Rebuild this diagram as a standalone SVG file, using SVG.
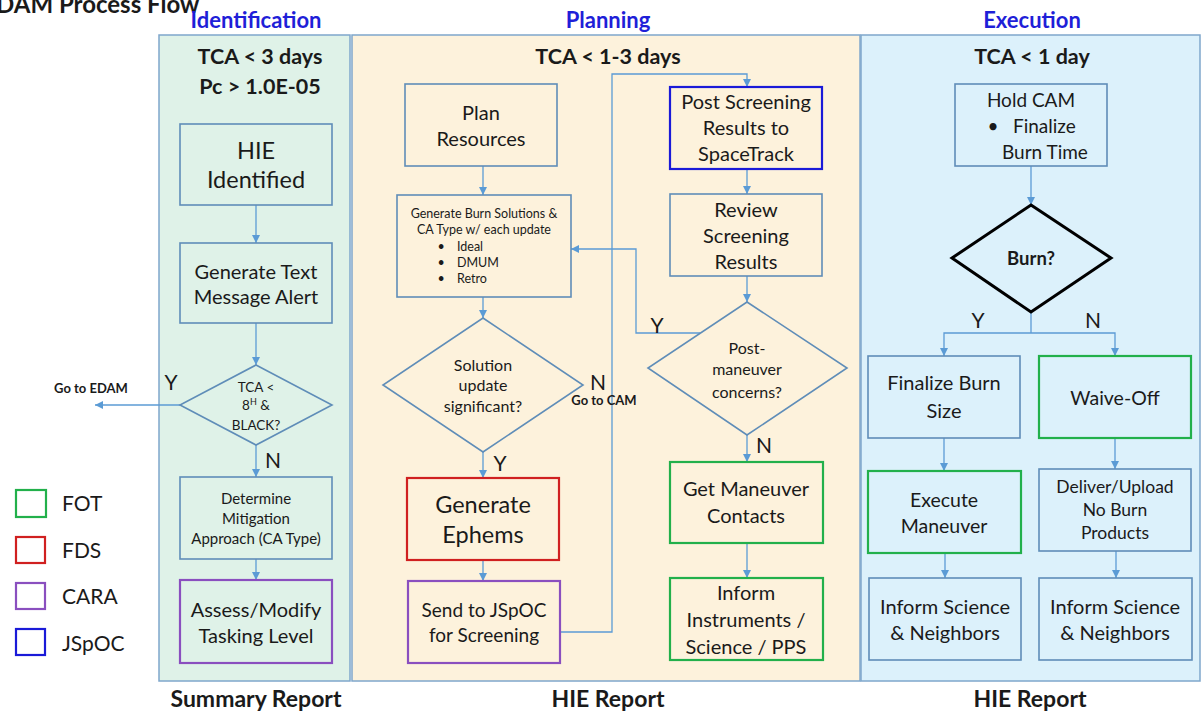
<svg xmlns="http://www.w3.org/2000/svg" width="1201" height="711" viewBox="0 0 1201 711">
<defs>
<marker id="ah" viewBox="0 0 10 10" refX="10" refY="5" markerWidth="8" markerHeight="8" markerUnits="userSpaceOnUse" orient="auto">
<path d="M0,0 L10,5 L0,10 z" fill="#5b9bd5"/>
</marker>
<style>
text{font-family:Lato,"Liberation Sans",sans-serif;fill:#1a1a1a;text-anchor:middle}
.hd{font-weight:bold;font-size:22px;fill:#1f1fd8}
.sub{font-weight:bold;font-size:21.5px}
.bot{font-weight:bold;font-size:23px}
.col{stroke:#7fa7cc;stroke-width:1.5}
.n{fill:none;stroke:#5f8db8;stroke-width:1.6}
.fot{stroke:#22b04b;stroke-width:2.2}
.fds{stroke:#d02020;stroke-width:2.2}
.cara{stroke:#8a4fbf;stroke-width:2.2}
.jsp{stroke:#1a1ad8;stroke-width:2.2}
.c{fill:none;stroke:#5b9bd5;stroke-width:1.3}
.yn{font-size:21px}
.lg{font-size:21px;text-anchor:start}
.go{font-weight:bold;font-size:13px}
</style>
</defs>
<text x="-4" y="13" style="font-weight:bold;font-size:24px;text-anchor:start">DAM Process Flow</text>

<g id="col-identification">
<rect class="col" x="159" y="35" width="191" height="646" fill="#dff2e8"/>
<text class="hd" x="256" y="28">Identification</text>
<text class="sub" x="260" y="64">TCA &lt; 3 days</text>
<text class="sub" x="260" y="94">Pc &gt; 1.0E-05</text>
<text class="bot" x="256" y="707">Summary Report</text>
</g>
<g id="col-planning">
<rect class="col" x="352" y="35" width="508" height="646" fill="#fdf2dc"/>
<text class="hd" x="608" y="28">Planning</text>
<text class="sub" x="608" y="64">TCA &lt; 1-3 days</text>
<text class="bot" x="608" y="707">HIE Report</text>
</g>
<g id="col-execution">
<rect class="col" x="861" y="35" width="339" height="646" fill="#dcf1fb"/>
<text class="hd" x="1032" y="28">Execution</text>
<text class="sub" x="1032" y="64">TCA &lt; 1 day</text>
<text class="bot" x="1030" y="707">HIE Report</text>
</g>

<g id="legend">
<rect class="fot" x="16" y="490" width="30" height="27" fill="none"/>
<text class="lg" x="62" y="511">FOT</text>
<rect class="fds" x="16" y="537" width="29" height="26" fill="none"/>
<text class="lg" x="62" y="558">FDS</text>
<rect class="cara" x="16" y="583" width="29" height="26" fill="none"/>
<text class="lg" x="62" y="604">CARA</text>
<rect class="jsp" x="16" y="629" width="29" height="26" fill="none"/>
<text class="lg" x="62" y="651">JSpOC</text>
</g>

<g id="connectors">
<line class="c" x1="256" y1="205" x2="256" y2="243" marker-end="url(#ah)"/>
<line class="c" x1="256" y1="323" x2="256" y2="365" marker-end="url(#ah)"/>
<line class="c" x1="180" y1="405" x2="95" y2="405" marker-end="url(#ah)"/>
<line class="c" x1="256" y1="445" x2="256" y2="477" marker-end="url(#ah)"/>
<line class="c" x1="256" y1="559" x2="256" y2="580" marker-end="url(#ah)"/>
<line class="c" x1="483" y1="166" x2="483" y2="195" marker-end="url(#ah)"/>
<line class="c" x1="483" y1="297" x2="483" y2="318" marker-end="url(#ah)"/>
<line class="c" x1="483" y1="452" x2="483" y2="478" marker-end="url(#ah)"/>
<line class="c" x1="483" y1="560" x2="483" y2="581" marker-end="url(#ah)"/>
<polyline class="c" points="560,632 612,632 612,74 747,74 747,87" marker-end="url(#ah)"/>
<line class="c" x1="747" y1="169" x2="747" y2="194" marker-end="url(#ah)"/>
<line class="c" x1="747" y1="276" x2="747" y2="302" marker-end="url(#ah)"/>
<polyline class="c" points="700,333 636,333 636,249 571,249" marker-end="url(#ah)"/>
<line class="c" x1="747" y1="435" x2="747" y2="462" marker-end="url(#ah)"/>
<line class="c" x1="747" y1="543" x2="747" y2="578" marker-end="url(#ah)"/>
<line class="c" x1="1031" y1="166" x2="1031" y2="205" marker-end="url(#ah)"/>
<polyline class="c" points="1031,312 1031,333"/>
<polyline class="c" points="1031,333 944,333 944,356" marker-end="url(#ah)"/>
<polyline class="c" points="1031,333 1115,333 1115,356" marker-end="url(#ah)"/>
<line class="c" x1="944" y1="438" x2="944" y2="471" marker-end="url(#ah)"/>
<line class="c" x1="1115" y1="438" x2="1115" y2="469" marker-end="url(#ah)"/>
<line class="c" x1="945" y1="553" x2="945" y2="578" marker-end="url(#ah)"/>
<line class="c" x1="1116" y1="551" x2="1116" y2="578" marker-end="url(#ah)"/>
<text class="yn" x="171" y="390">Y</text>
<text class="go" x="91" y="393">Go to EDAM</text>
<text class="yn" x="273" y="468">N</text>
<text class="yn" x="598" y="390">N</text>
<text class="go" x="604" y="405">Go to CAM</text>
<text class="yn" x="500" y="471">Y</text>
<text class="yn" x="657" y="333">Y</text>
<text class="yn" x="764" y="453">N</text>
<text class="yn" x="978" y="328">Y</text>
<text class="yn" x="1093" y="328">N</text>
</g>

<g id="hie-identified">
<rect class="n" x="180" y="124" width="152" height="81"/>
<text x="256" y="159" font-size="23.5">HIE</text>
<text x="256" y="188" font-size="23.5">Identified</text>
</g>
<g id="text-alert">
<rect class="n" x="180" y="243" width="152" height="80"/>
<text x="256" y="279" font-size="20">Generate Text</text>
<text x="256" y="304" font-size="20">Message Alert</text>
</g>
<g id="tca-8h">
<polygon class="n" points="256,365 332,405 256,445 180,405"/>
<text x="256" y="392" font-size="13.5">TCA &lt;</text>
<text x="256" y="410" font-size="13.5">8<tspan font-size="9" dy="-5">H</tspan><tspan dy="5"> &amp;</tspan></text>
<text x="256" y="430" font-size="13.5">BLACK?</text>
</g>
<g id="determine-mitigation">
<rect class="n" x="180" y="477" width="152" height="82"/>
<text x="256" y="504" font-size="15">Determine</text>
<text x="256" y="524" font-size="15">Mitigation</text>
<text x="256" y="544" font-size="15">Approach (CA Type)</text>
</g>
<g id="assess-modify">
<rect class="n cara" x="180" y="580" width="152" height="83"/>
<text x="256" y="617" font-size="20">Assess/Modify</text>
<text x="256" y="643" font-size="20">Tasking Level</text>
</g>

<g id="plan-resources">
<rect class="n" x="405" y="84" width="152" height="82"/>
<text x="481" y="120" font-size="20">Plan</text>
<text x="481" y="146" font-size="20">Resources</text>
</g>
<g id="burn-solutions">
<rect class="n" x="397" y="195" width="174" height="102"/>
<text x="484" y="218" font-size="12.5">Generate Burn Solutions &amp;</text>
<text x="484" y="234" font-size="12.5">CA Type w/ each update</text>
<text x="441" y="251" font-size="12.5">•</text>
<text x="457" y="251" font-size="12.5" style="text-anchor:start">Ideal</text>
<text x="441" y="267" font-size="12.5">•</text>
<text x="457" y="267" font-size="12.5" style="text-anchor:start">DMUM</text>
<text x="441" y="283" font-size="12.5">•</text>
<text x="457" y="283" font-size="12.5" style="text-anchor:start">Retro</text>
</g>
<g id="solution-significant">
<polygon class="n" points="483,318 583,385 483,452 383,385"/>
<text x="483" y="371" font-size="16">Solution</text>
<text x="483" y="391" font-size="16">update</text>
<text x="483" y="412" font-size="16">significant?</text>
</g>
<g id="generate-ephems">
<rect class="n fds" x="407" y="478" width="152" height="82"/>
<text x="483" y="513" font-size="23.5">Generate</text>
<text x="483" y="543" font-size="23.5">Ephems</text>
</g>
<g id="send-jspoc">
<rect class="n cara" x="408" y="581" width="152" height="82"/>
<text x="484" y="617" font-size="19">Send to JSpOC</text>
<text x="484" y="642" font-size="19">for Screening</text>
</g>
<g id="post-screening">
<rect class="n jsp" x="670" y="87" width="152" height="82"/>
<text x="746" y="109" font-size="20">Post Screening</text>
<text x="746" y="135" font-size="20">Results to</text>
<text x="746" y="161" font-size="20">SpaceTrack</text>
</g>
<g id="review-screening">
<rect class="n" x="670" y="194" width="152" height="82"/>
<text x="746" y="217" font-size="20">Review</text>
<text x="746" y="243" font-size="20">Screening</text>
<text x="746" y="269" font-size="20">Results</text>
</g>
<g id="post-maneuver">
<polygon class="n" points="747,302 847,368 747,435 648,368"/>
<text x="747" y="354" font-size="16">Post-</text>
<text x="747" y="375" font-size="16">maneuver</text>
<text x="747" y="398" font-size="16">concerns?</text>
</g>
<g id="get-contacts">
<rect class="n fot" x="670" y="462" width="153" height="81"/>
<text x="746" y="496" font-size="20">Get Maneuver</text>
<text x="746" y="523" font-size="20">Contacts</text>
</g>
<g id="inform-instruments">
<rect class="n fot" x="670" y="578" width="153" height="82"/>
<text x="746" y="600" font-size="20">Inform</text>
<text x="746" y="627" font-size="20">Instruments /</text>
<text x="746" y="654" font-size="20">Science / PPS</text>
</g>

<g id="hold-cam">
<rect class="n" x="955" y="84" width="152" height="82"/>
<text x="1031" y="107" font-size="19">Hold CAM</text>
<text x="993" y="133" font-size="19">•</text>
<text x="1013" y="133" font-size="19" style="text-anchor:start">Finalize</text>
<text x="1002" y="159" font-size="19" style="text-anchor:start">Burn Time</text>
</g>
<g id="burn">
<polygon points="1031,205 1111,258 1031,312 952,258" fill="none" stroke="#000" stroke-width="3"/>
<text x="1031" y="265" font-size="18.5" font-weight="bold">Burn?</text>
</g>
<g id="finalize-burn">
<rect class="n" x="868" y="356" width="152" height="82"/>
<text x="944" y="390" font-size="20">Finalize Burn</text>
<text x="944" y="418" font-size="20">Size</text>
</g>
<g id="waive-off">
<rect class="n fot" x="1039" y="356" width="152" height="82"/>
<text x="1115" y="405" font-size="19.5">Waive-Off</text>
</g>
<g id="execute-maneuver">
<rect class="n fot" x="868" y="471" width="153" height="82"/>
<text x="944" y="507" font-size="19.5">Execute</text>
<text x="944" y="533" font-size="19.5">Maneuver</text>
</g>
<g id="deliver-upload">
<rect class="n" x="1039" y="469" width="152" height="82"/>
<text x="1115" y="493" font-size="17.5">Deliver/Upload</text>
<text x="1115" y="516" font-size="17.5">No Burn</text>
<text x="1115" y="539" font-size="17.5">Products</text>
</g>
<g id="inform-science-1">
<rect class="n" x="869" y="578" width="152" height="82"/>
<text x="945" y="614" font-size="20">Inform Science</text>
<text x="945" y="640" font-size="20">&amp; Neighbors</text>
</g>
<g id="inform-science-2">
<rect class="n" x="1039" y="578" width="153" height="82"/>
<text x="1115" y="614" font-size="20">Inform Science</text>
<text x="1115" y="640" font-size="20">&amp; Neighbors</text>
</g>
</svg>
